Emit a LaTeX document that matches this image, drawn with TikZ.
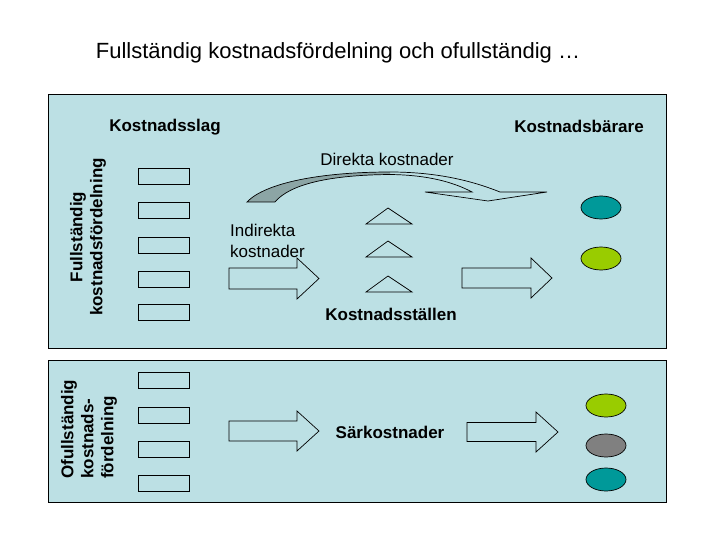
\documentclass[tikz,border=0pt]{standalone}
\usepackage{fontspec}
\setmainfont{Liberation Sans}
\usetikzlibrary{shapes.geometric}
\definecolor{panelbg}{RGB}{188,224,228}
\definecolor{tealc}{RGB}{0,153,153}
\definecolor{greenc}{RGB}{153,204,0}
\definecolor{grayc}{RGB}{128,128,128}
\definecolor{ribbon}{RGB}{140,165,165}
\newcommand\blkarrow[7]{% name, x0, x1, xtip, yc, shaft half, head half
  \draw[blk] (#2,#5-#6) coordinate (#1) -- (#3,#5-#6) -- (#3,#5-#7) -- (#4,#5) -- (#3,#5+#7) -- (#3,#5+#6) -- (#2,#5+#6) -- cycle;}
\newcommand\tri[3]{% name, apex y, base y
  \draw[tri] (388,#2) coordinate (#1) -- (412,#3) -- (366,#3) -- cycle;}
\begin{document}
\begin{tikzpicture}[x=1pt,y=-1pt, line join=miter,
  panel/.style={draw=black, line width=0.9pt, fill=panelbg},
  kbox/.style={draw=black, line width=0.8pt, minimum width=51pt, minimum height=16pt, inner sep=0pt},
  blk/.style={draw=black, line width=0.7pt},
  tri/.style={draw=black, line width=0.7pt},
  oval/.style={ellipse, draw=black, line width=0.7pt, minimum width=40pt, minimum height=23pt, inner sep=0pt},
  lbl/.style={font=\fontsize{17}{21}\selectfont, inner sep=0pt},
  blbl/.style={font=\fontsize{17}{20}\selectfont\bfseries, inner sep=0pt},
]
\useasboundingbox (0,0) rectangle (720,540);
\fill[white] (0,0) rectangle (720,540);

% title
\node[font=\fontsize{22}{26}\selectfont, inner sep=0pt, anchor=base] (title) at (338,59) {Fullständig kostnadsfördelning och ofullständig …};

% panels
\draw[panel] (48,94) rectangle (666,348);
\draw[panel] (48,360) rectangle (666,502);

% headings
\node[blbl, anchor=base] (kslag) at (165,132) {Kostnadsslag};
\node[blbl, anchor=base] (kbar) at (579,133) {Kostnadsbärare};
\node[blbl, anchor=base] (kstal) at (391,320) {Kostnadsställen};
\node[blbl, anchor=base] (sark) at (390,438) {Särkostnader};
\node[lbl, anchor=base] (dir) at (387,166) {Direkta kostnader};
\node[lbl, align=left, anchor=north west] (indir) at (230,224) {Indirekta\\kostnader};

% vertical labels
\node[blbl, rotate=90, align=center] (full) at (88,237) {Fullständig\\kostnadsfördelning};
\node[blbl, rotate=90, align=left, anchor=west] (ofull) at (89,479) {Ofullständig\\kostnads-\\fördelning};

% cost-type boxes, top
\foreach \y [count=\i] in {176,210,245,279,312} {
  \node[kbox] (bt\i) at (163.5,\y) {};
}
% cost-type boxes, bottom
\foreach \y [count=\i] in {380.5,415,449,483} {
  \node[kbox] (bb\i) at (163.5,\y) {};
}

% block arrows
\blkarrow{aind}{229}{297}{319}{278.5}{10.5}{20.5}
\blkarrow{arig}{462}{531}{552}{278}{10}{20}
\blkarrow{ab1}{229}{297}{319}{431}{10}{20}
\blkarrow{ab2}{467}{536}{558}{432}{9.5}{20}

% triangles (cost centres)
\tri{t1}{208}{224}
\tri{t2}{241}{257}
\tri{t3}{276}{292}

% curved arrow (direct costs)
\fill[ribbon] (247,202) .. controls (265,183) and (320,172) .. (390,172)
  -- (390,174.5) .. controls (330,175) and (290,184) .. (275,202) -- cycle;
\draw[blk] (275,202) -- (247,202) .. controls (265,183) and (320,172) .. (390,172)
  .. controls (440,172) and (475,182) .. (500,192) -- (547,192) -- (488,201) -- (425,192) -- (472,192)
  .. controls (455,183) and (430,175) .. (390,174.5) .. controls (330,175) and (290,184) .. (275,202);

% cost objects
\node[oval, fill=tealc] (o1) at (601,207.5) {};
\node[oval, fill=greenc] (o2) at (601,258.5) {};
\node[oval, fill=greenc] (o3) at (606,405.5) {};
\node[oval, fill=grayc] (o4) at (606,445.5) {};
\node[oval, fill=tealc] (o5) at (606,479.5) {};
\end{tikzpicture}
\end{document}
